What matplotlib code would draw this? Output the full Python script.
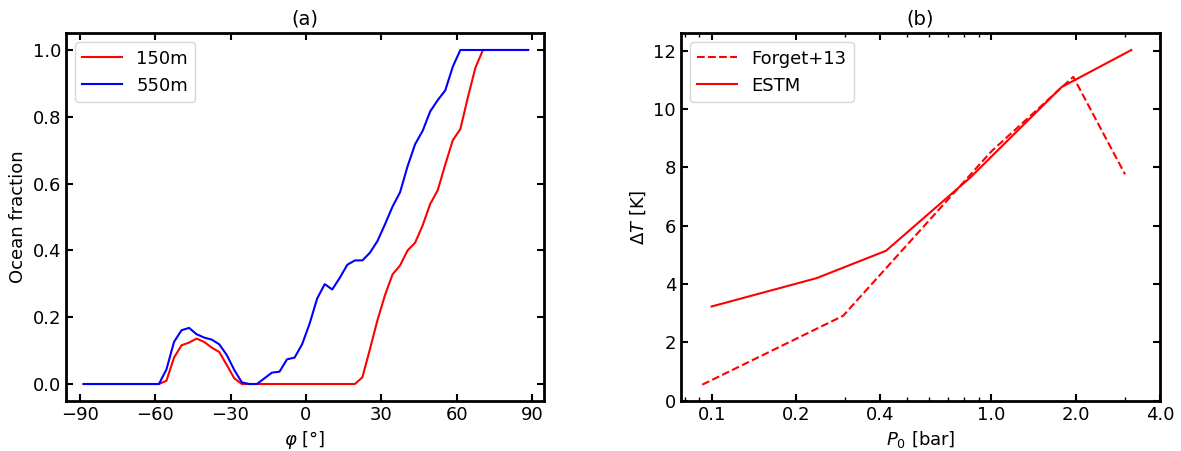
# Ocean fraction vs latitude (a) and warming vs surface pressure (b)
import numpy as np
import matplotlib
matplotlib.use("Agg")
import matplotlib.pyplot as plt
from matplotlib.ticker import NullFormatter

plt.rcParams["font.size"] = 13

# (a) latitude grid (3 deg cells) and ocean fraction for two sea levels
lat = np.arange(-88.5, 89.0, 3.0)
frac_150 = [0, 0, 0, 0, 0, 0, 0, 0, 0, 0,
            0, 0.010, 0.079, 0.116, 0.124, 0.136, 0.126, 0.109, 0.096, 0.057,
            0.017, 0, 0, 0, 0, 0, 0, 0, 0, 0,
            0, 0, 0, 0, 0, 0, 0, 0.020, 0.104, 0.191,
            0.266, 0.328, 0.355, 0.400, 0.423, 0.475, 0.539, 0.580, 0.657, 0.730,
            0.763, 0.858, 0.947, 1, 1, 1, 1, 1, 1, 1]
frac_550 = [0, 0, 0, 0, 0, 0, 0, 0, 0, 0,
            0, 0.044, 0.126, 0.161, 0.168, 0.149, 0.139, 0.133, 0.119, 0.087,
            0.042, 0.005, 0, 0, 0.017, 0.034, 0.037, 0.074, 0.079, 0.119,
            0.181, 0.256, 0.299, 0.283, 0.318, 0.357, 0.370, 0.370, 0.393, 0.428,
            0.478, 0.531, 0.574, 0.652, 0.718, 0.758, 0.816, 0.850, 0.879, 0.950,
            1, 1, 1, 1, 1, 1, 1, 1, 1, 1]

# (b) surface pressure [bar] and temperature increase [K]
p_forget = [0.0926, 0.295, 1.0, 1.96, 3.0]
dT_forget = [0.55, 2.91, 8.55, 11.1, 7.76]
p_estm = [0.1, 0.237, 0.42, 0.84, 1.78, 3.16]
dT_estm = [3.23, 4.2, 5.14, 7.65, 10.75, 12.02]

fig = plt.figure(figsize=(11.81, 4.51), dpi=100)
ax1 = fig.add_axes([0.0559, 0.1115, 0.4047, 0.8147])
ax2 = fig.add_axes([0.5766, 0.1115, 0.4056, 0.8147])

ax1.plot(lat, frac_150, color="red", lw=1.5, label="150m")
ax1.plot(lat, frac_550, color="blue", lw=1.5, label="550m")
ax1.set_xlim(-95.5, 94.8)
ax1.set_xticks([-90, -60, -30, 0, 30, 60, 90])
ax1.set_xlabel(r"$\varphi$ [°]")
ax1.set_ylabel("Ocean fraction")
ax1.set_title("(a)", fontsize=14)
ax1.legend(loc="upper left", handlelength=2.2)

ax2.plot(p_forget, dT_forget, color="red", ls="--", lw=1.5, label="Forget+13")
ax2.plot(p_estm, dT_estm, color="red", lw=1.5, label="ESTM")
ax2.set_xscale("log")
ax2.set_xlim(0.0777, 4.0)
ax2.set_ylim(bottom=0)
ax2.set_xticks([0.1, 0.2, 0.4, 1.0, 2.0, 4.0])
ax2.set_xticklabels(["0.1", "0.2", "0.4", "1.0", "2.0", "4.0"])
ax2.xaxis.set_minor_formatter(NullFormatter())
ax2.set_xlabel(r"$P_0$ [bar]")
ax2.set_ylabel(r"$\Delta T$ [K]")
ax2.set_title("(b)", fontsize=14)
ax2.legend(loc="upper left", handlelength=2.2)

for ax in (ax1, ax2):
    ax.tick_params(which="both", direction="in", top=True, right=True)
    ax.tick_params(which="major", length=5, width=1.5)
    ax.tick_params(which="minor", length=3, width=1)
    for s in ax.spines.values():
        s.set_linewidth(2)

fig.savefig("out.png", dpi=100)
